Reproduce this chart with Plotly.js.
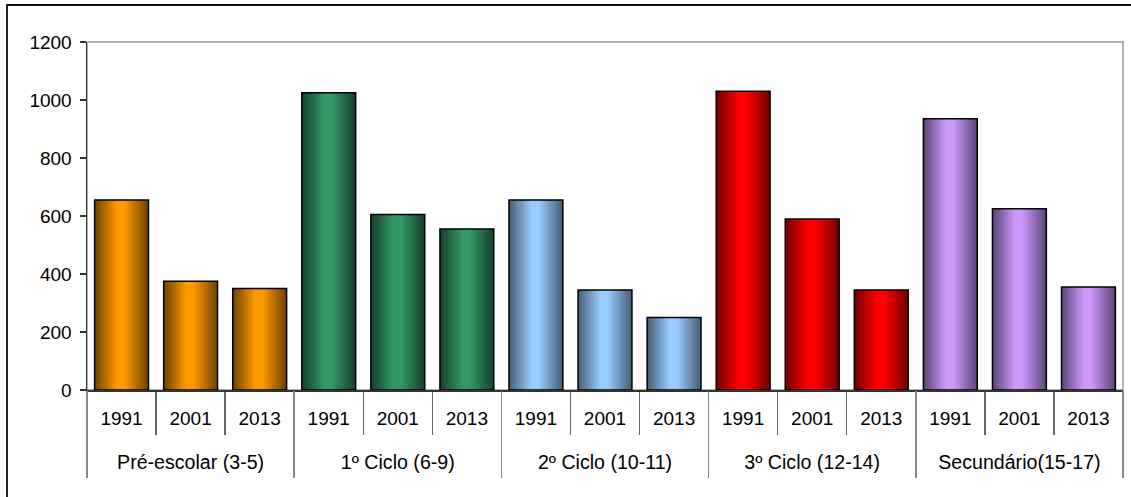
<!DOCTYPE html>
<html>
<head>
<meta charset="utf-8">
<script src="https://cdn.plot.ly/plotly-3.0.1.min.js"></script>
<style>
  html, body { margin: 0; padding: 0; overflow: hidden; background: #fff; }
  #chart { width: 1131px; height: 497px; }
  #frame { position: absolute; left: 6px; top: 4px; width: 2000px; height: 2000px;
           border-left: 2px solid #222; border-top: 2px solid #111; pointer-events: none; }
</style>
</head>
<body>
<div id="chart"></div>
<div id="frame"></div>
<script>
// ---- data ----
const groups = ["Pré-escolar (3-5)", "1º Ciclo (6-9)", "2º Ciclo (10-11)", "3º Ciclo (12-14)", "Secundário(15-17)"];
const years = ["1991", "2001", "2013"];
const preEscolar = [655, 375, 350];
const ciclo1 = [1025, 605, 555];
const ciclo2 = [655, 345, 250];
const ciclo3 = [1030, 590, 345];
const secundario = [935, 625, 355];
const yTicks = [0, 200, 400, 600, 800, 1000, 1200];

// ---- styles ----
const groupColors = ["#FF9900", "#339966", "#99CCFF", "#FF0000", "#CC99FF"];
const groupDark = ["#6e4200", "#163f2b", "#465d75", "#700000", "#5c4573"];
const FONT = "Liberation Sans, Arial, sans-serif";

const series = [preEscolar, ciclo1, ciclo2, ciclo3, secundario];
const cats = [], vals = [], colors = [], tickText = [];
groups.forEach((g, gi) => {
  years.forEach((yr, yi) => {
    cats.push(g + " " + yr);
    vals.push(series[gi][yi]);
    colors.push(groupColors[gi]);
    tickText.push(yr);
  });
});
const n = cats.length;
const per = years.length;
const boundaries = [];
for (let gi = 0; gi <= groups.length; gi++) boundaries.push(gi * per - 0.5);
const centers = groups.map((g, gi) => gi * per + (per - 1) / 2);

const trace = {
  type: "bar",
  x: cats,
  y: vals,
  marker: { color: colors, line: { color: "#000", width: 1.5 } },
  hoverinfo: "x+y"
};

const layout = {
  width: 1131, height: 497,
  margin: { l: 87, r: 8, t: 42, b: 107 },
  paper_bgcolor: "#fff", plot_bgcolor: "#fff",
  font: { family: FONT, size: 19, color: "#000" },
  showlegend: false,
  bargap: 0.22,
  xaxis: {
    type: "category",
    range: [-0.5, n - 0.5],
    tickmode: "array", tickvals: cats, ticktext: tickText,
    tickson: "boundaries",
    ticks: "outside", ticklen: 43, tickcolor: "#666", tickwidth: 1.5,
    ticklabelstandoff: 11,
    showline: true, linecolor: "#333", linewidth: 1.5,
    showgrid: false, zeroline: false,
    tickfont: { family: FONT, size: 19, color: "#000" },
    fixedrange: true
  },
  xaxis2: {
    overlaying: "x", anchor: "y", side: "bottom",
    type: "linear", range: [-0.5, n - 0.5],
    tickmode: "array", tickvals: boundaries, ticktext: boundaries.map(() => ""),
    ticks: "outside", ticklen: 87, tickcolor: "#888", tickwidth: 1.5,
    showline: false, showgrid: false, zeroline: false,
    fixedrange: true
  },
  xaxis3: {
    overlaying: "x", anchor: "y", side: "bottom",
    type: "linear", range: [-0.5, n - 0.5],
    tickmode: "array", tickvals: centers, ticktext: groups,
    ticks: "",
    ticklabelstandoff: 58,
    showline: false, showgrid: false, zeroline: false,
    tickfont: { family: FONT, size: 19.6, color: "#000" },
    fixedrange: true
  },
  yaxis: {
    range: [0, 1200],
    tickmode: "array", tickvals: yTicks,
    ticks: "outside", ticklen: 6, tickcolor: "#333", tickwidth: 1.5,
    ticklabelstandoff: 4,
    showline: true, linecolor: "#333", linewidth: 1.5,
    showgrid: false, zeroline: false,
    tickfont: { family: FONT, size: 19, color: "#000" },
    fixedrange: true
  },
  shapes: [{
    type: "rect", xref: "paper", yref: "paper", x0: 0, x1: 1, y0: 0, y1: 1,
    line: { color: "#999", width: 1.5 }, layer: "below"
  }]
};

// empty traces so the overlay axes are initialised
const t2 = { type: "scatter", x: [], y: [], xaxis: "x2", yaxis: "y", hoverinfo: "skip", showlegend: false };
const t3 = { type: "scatter", x: [], y: [], xaxis: "x3", yaxis: "y", hoverinfo: "skip", showlegend: false };

const gd = document.getElementById("chart");
Plotly.newPlot(gd, [trace, t2, t3], layout, { displayModeBar: false, responsive: false, staticPlot: true })
  .then(() => {
    const svgNS = "http://www.w3.org/2000/svg";
    const svg = gd.querySelector("svg.main-svg");
    let defs = svg.querySelector("defs");
    if (!defs) { defs = document.createElementNS(svgNS, "defs"); svg.insertBefore(defs, svg.firstChild); }
    groupColors.forEach((c, gi) => {
      const lg = document.createElementNS(svgNS, "linearGradient");
      lg.setAttribute("id", "barGrad" + gi);
      lg.setAttribute("x1", "0"); lg.setAttribute("x2", "1");
      lg.setAttribute("y1", "0"); lg.setAttribute("y2", "0");
      [[0, groupDark[gi]], [0.42, c], [0.55, c], [1, groupDark[gi]]].forEach(([o, col]) => {
        const st = document.createElementNS(svgNS, "stop");
        st.setAttribute("offset", o);
        st.setAttribute("stop-color", col);
        lg.appendChild(st);
      });
      defs.appendChild(lg);
    });
    const paths = gd.querySelectorAll(".barlayer .trace .point path");
    paths.forEach((p, i) => {
      const gi = Math.floor(i / per);
      p.style.fill = "url(#barGrad" + gi + ")";
    });
  });
</script>
</body>
</html>
